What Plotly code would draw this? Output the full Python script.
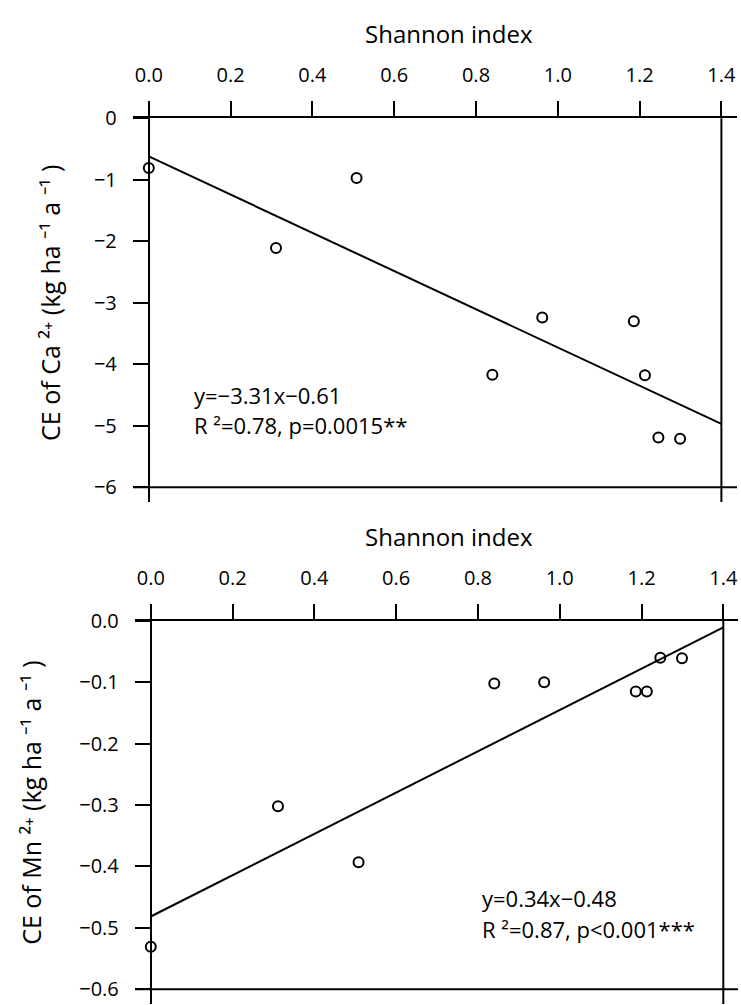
import plotly.graph_objects as go

# ---- data ----
shannon = [0.0, 0.311, 0.508, 0.840, 0.962, 1.186, 1.213, 1.246, 1.299]
ce_ca = [-0.81, -2.11, -0.97, -4.17, -3.24, -3.30, -4.18, -5.19, -5.21]
ce_mn = [-0.531, -0.302, -0.393, -0.102, -0.100, -0.115, -0.115, -0.060, -0.061]
fit_x = [0.0, 1.4]
ca_fit_y = [-0.62, -4.97]
mn_fit_y = [-0.4815, -0.0105]
x_ticks = [0.0, 0.2, 0.4, 0.6, 0.8, 1.0, 1.2, 1.4]
ca_ticks = [0, -1, -2, -3, -4, -5, -6]
mn_ticks = [0.0, -0.1, -0.2, -0.3, -0.4, -0.5, -0.6]
x_title = "Shannon index"
ca_title = "CE of Ca \u00b2\u207a (kg ha \u207b\u00b9 a \u207b\u00b9 )"
mn_title = "CE of Mn \u00b2\u207a (kg ha \u207b\u00b9 a \u207b\u00b9 )"
ca_eq = ["y=\u22123.31x\u22120.61", "R \u00b2=0.78, p=0.0015**"]
mn_eq = ["y=0.34x\u22120.48", "R \u00b2=0.87, p<0.001***"]

W, H = 741, 1005
FONT = "Open Sans"

def py(p):
    return 1 - p / H

def px(p):
    return p / W

fig = go.Figure()

# top panel: x 0 -> 148.8px, 1.4 -> 721.4px ; y 0 -> 105.7px, -6 -> 480px
# bottom panel: x 0 -> 150.8px, 1.4 -> 723.3px ; y 0 -> 615.5px, -0.6 -> 989px
panels = [
    dict(x0=148.8, x14=721.4, xl=133, xr=737, ytop=105.7, ybot=480.0, yv=-6.0,
         ys=ce_ca, fy=ca_fit_y, ticks=ca_ticks, fmt="d", title=ca_title, tx=50, ty=293,
         eq=ca_eq, ex=191.7, ey=[386.7, 416.7], ttl_y=20),
    dict(x0=150.8, x14=723.3, xl=135, xr=738, ytop=615.5, ybot=989.0, yv=-0.6,
         ys=ce_mn, fy=mn_fit_y, ticks=mn_ticks, fmt=".1f", title=mn_title, tx=31, ty=800,
         eq=mn_eq, ex=480, ey=[896.7, 927.7], ttl_y=530),
]

annotations = []
shapes = []
for i, p in enumerate(panels):
    n = "" if i == 0 else str(i + 1)
    xs = (p["x14"] - p["x0"]) / 1.4
    ys_ = (p["ybot"] - p["ytop"]) / (-p["yv"])
    xrange = [(p["xl"] - p["x0"]) / xs, (p["xr"] - p["x0"]) / xs]
    ylow_px = p["ybot"] + 15
    yrange = [-(ylow_px - p["ytop"]) / ys_, 0]

    fig.add_trace(go.Scatter(x=fit_x, y=p["fy"], mode="lines",
                             line=dict(color="black", width=2),
                             xaxis="x" + n, yaxis="y" + n, showlegend=False))
    fig.add_trace(go.Scatter(x=shannon, y=p["ys"], mode="markers",
                             marker=dict(symbol="circle-open", size=10, color="black",
                                         line=dict(width=2, color="black")),
                             xaxis="x" + n, yaxis="y" + n, showlegend=False))

    fig.layout["xaxis" + n] = dict(
        domain=[px(p["xl"]), px(p["xr"])], range=xrange, side="top",
        anchor="y" + n, showline=True, linecolor="black", linewidth=2,
        ticks="outside", ticklen=15, tickwidth=2, tickcolor="black",
        tickvals=x_ticks, tickformat=".1f", showgrid=False, zeroline=False,
        tickfont=dict(family=FONT, size=20, color="black"), ticklabelstandoff=11,
    )
    fig.layout["yaxis" + n] = dict(
        domain=[py(ylow_px), py(p["ytop"])], range=yrange,
        anchor="free", position=px(p["x0"]), showline=True, linecolor="black", linewidth=2,
        ticks="outside", ticklen=15, tickwidth=2, tickcolor="black",
        tickvals=p["ticks"], tickformat=p["fmt"], showgrid=False, zeroline=False,
        tickfont=dict(family=FONT, size=20, color="black"), ticklabelstandoff=12,
    )
    # bottom frame line at the lowest y value, right frame line at x = 1.4
    shapes.append(dict(type="line", xref="x" + n + " domain", yref="y" + n,
                       x0=0, x1=1, y0=p["yv"], y1=p["yv"],
                       line=dict(color="black", width=2)))
    shapes.append(dict(type="line", xref="x" + n, yref="y" + n + " domain",
                       x0=x_ticks[-1], x1=x_ticks[-1], y0=0, y1=1,
                       line=dict(color="black", width=2)))

    annotations.append(dict(text=x_title, xref="paper", yref="paper",
                            x=px(449), y=py(p["ttl_y"]), showarrow=False,
                            xanchor="center", yanchor="middle",
                            font=dict(family=FONT, size=24, color="black")))
    annotations.append(dict(text=p["title"], xref="paper", yref="paper",
                            x=px(p["tx"]), y=py(p["ty"]), showarrow=False, textangle=-90,
                            xanchor="center", yanchor="middle",
                            font=dict(family=FONT, size=25, color="black")))
    for line_text, ly in zip(p["eq"], p["ey"]):
        annotations.append(dict(text=line_text, xref="paper", yref="paper",
                                x=px(p["ex"]), y=py(ly), showarrow=False,
                                xanchor="left", yanchor="middle",
                                font=dict(family=FONT, size=22, color="black")))

fig.update_layout(
    width=W, height=H, margin=dict(l=0, r=0, t=0, b=0),
    paper_bgcolor="white", plot_bgcolor="white",
    annotations=annotations, shapes=shapes,
)

fig.write_html("out.html")
